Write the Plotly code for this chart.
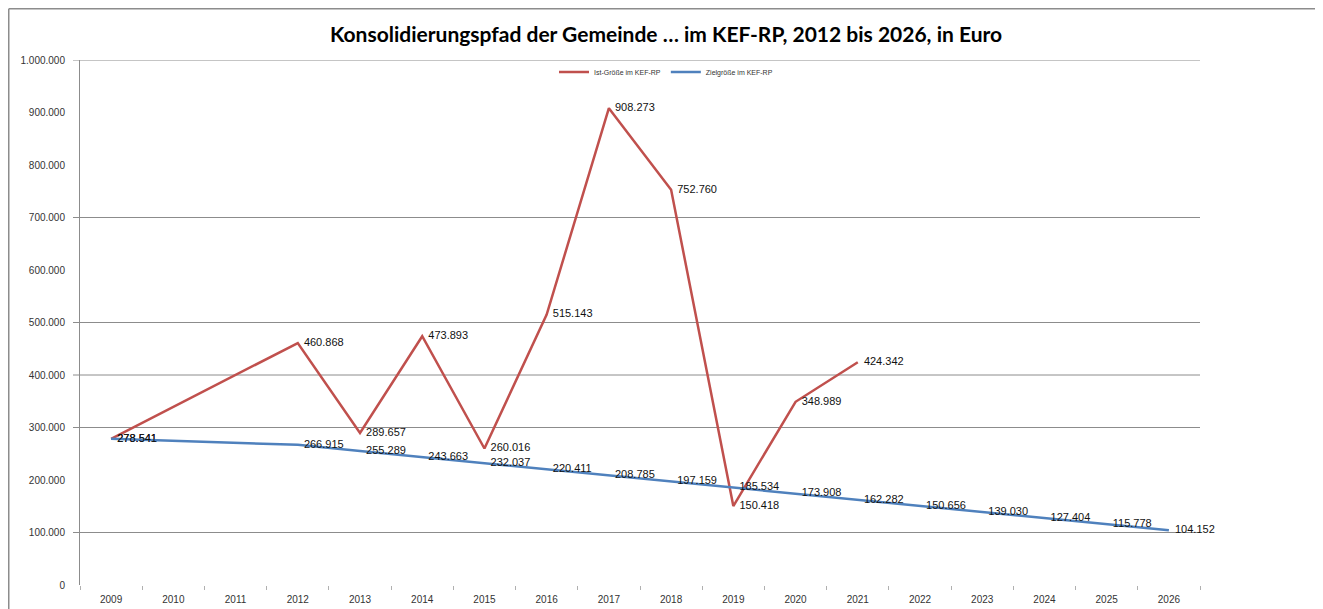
import plotly.graph_objects as go

years = [str(y) for y in range(2009, 2027)]
ist_values = [278541, None, None, 460868, 289657, 473893, 260016, 515143, 908273,
              752760, 150418, 348989, 424342, None, None, None, None, None]
ziel_values = [278541, None, None, 266915, 255289, 243663, 232037, 220411, 208785,
               197159, 185534, 173908, 162282, 150656, 139030, 127404, 115778, 104152]
y_ticks = [0, 100000, 200000, 300000, 400000, 500000, 600000, 700000, 800000, 900000, 1000000]
grid_values = [100000, 300000, 400000, 500000, 700000, 1000000]

def fmt(v):
    return "" if v is None else "  " + f"{v:,}".replace(",", ".")

RED = "#C0504D"
BLUE = "#4F81BD"
OFF = 8  # page body margin
W, H = 1323, 609
L, T = 80 - OFF, 60 - OFF
PW, PH = 1120, 525
R, B = W - L - PW, H - T - PH

fig = go.Figure()
fig.add_trace(go.Scatter(
    x=years, y=ist_values, mode="lines+text", name="Ist-Größe im KEF-RP",
    line=dict(color=RED, width=2.5), connectgaps=True,
    text=[fmt(v) for v in ist_values], textposition="middle right",
    textfont=dict(family="Liberation Sans", size=11, color="#111111"),
    cliponaxis=False,
))
fig.add_trace(go.Scatter(
    x=years, y=ziel_values, mode="lines+text", name="Zielgröße im KEF-RP",
    line=dict(color=BLUE, width=2.5), connectgaps=True,
    text=[fmt(v) for v in ziel_values], textposition="middle right",
    textfont=dict(family="Liberation Sans", size=11, color="#111111"),
    cliponaxis=False,
))

shapes = []
for g in grid_values:
    shapes.append(dict(type="line", xref="paper", yref="y", x0=-7 / PW, x1=1, y0=g, y1=g,
                       line=dict(color="#8c8c8c", width=1), layer="below"))
# outer chart frame (top and left edges), in figure pixel positions
fx, fy = 0.75, 0.75
shapes.append(dict(type="line", xref="paper", yref="paper",
                   x0=(fx - L) / PW, x1=(W - L) / PW, y0=(T + PH - fy) / PH, y1=(T + PH - fy) / PH,
                   line=dict(color="#8c8c8c", width=1.5)))
shapes.append(dict(type="line", xref="paper", yref="paper",
                   x0=(fx - L) / PW, x1=(fx - L) / PW, y0=(T + PH - fy) / PH, y1=-B / PH,
                   line=dict(color="#8c8c8c", width=1.5)))

fig.update_layout(
    width=W, height=H,
    margin=dict(l=L, r=R, t=T, b=B),
    paper_bgcolor="white", plot_bgcolor="white",
    separators=",.",
    title=dict(text="<b>Konsolidierungspfad der Gemeinde … im KEF-RP, 2012 bis 2026, in Euro</b>",
               x=(666 - OFF) / W, xanchor="center", y=1 - (35 - OFF) / H, yanchor="middle",
               font=dict(family="Lato", size=21, color="#000000")),
    legend=dict(orientation="h", x=(666 - L - OFF) / PW, xanchor="center",
                y=(T + PH - (72 - OFF)) / PH, yanchor="middle",
                font=dict(family="Liberation Sans", size=7, color="#333333"),
                bgcolor="rgba(0,0,0,0)", itemwidth=30, tracegroupgap=0),
    shapes=shapes,
    showlegend=True,
)
fig.update_xaxes(type="category", range=[-0.5, 17.5], showgrid=False,
                 showline=False, ticks="outside", tickson="boundaries", ticklen=4,
                 tickcolor="#b0b0b0", ticklabelstandoff=7,
                 tickfont=dict(family="Liberation Sans", size=10, color="#333333"))
fig.update_yaxes(range=[0, 1000000], tickvals=y_ticks, tickformat=",d",
                 showgrid=False, zeroline=False, showline=True, linecolor="#8c8c8c",
                 linewidth=1, ticks="", ticklabelstandoff=12,
                 tickfont=dict(family="Liberation Sans", size=10, color="#333333"))

fig.write_html("out.html")
